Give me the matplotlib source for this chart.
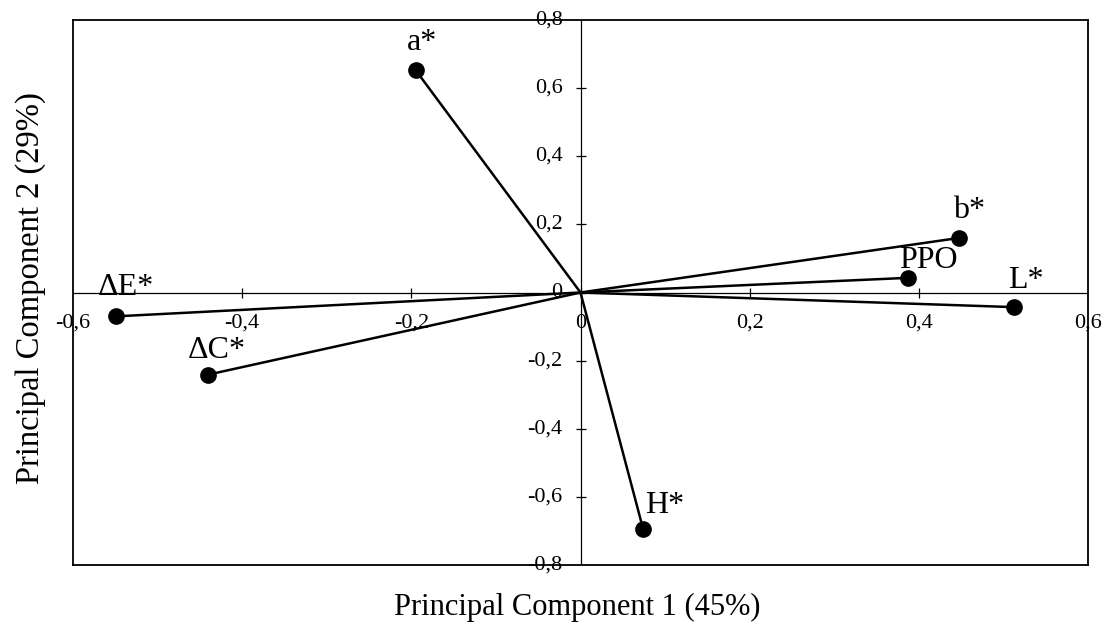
import matplotlib.pyplot as plt

# loadings
labels = ['a*', 'b*', 'PPO', 'L*', '\u0394E*', '\u0394C*', 'H*']
pc1 = [-0.195, 0.447, 0.387, 0.513, -0.549, -0.440, 0.074]
pc2 = [0.653, 0.160, 0.043, -0.043, -0.070, -0.241, -0.694]
# label offsets in pixels (dx, dy)
offsets = [(6, 28), (10, 28), (21, 17), (11, 27), (10, 29), (8, 24), (22, 23)]

xticks = [-0.6, -0.4, -0.2, 0, 0.2, 0.4, 0.6]
xticklabels = ['-0,6', '-0,4', '-0,2', '0', '0,2', '0,4', '0,6']
yticks = [-0.8, -0.6, -0.4, -0.2, 0, 0.2, 0.4, 0.6, 0.8]
yticklabels = ['-0,8', '-0,6', '-0,4', '-0,2', '0', '0,2', '0,4', '0,6', '0,8']

plt.rcParams['font.family'] = ['Liberation Serif', 'DejaVu Serif']

fig = plt.figure(figsize=(11.03, 6.27), dpi=100)
ax = fig.add_axes([73 / 1103, 1 - 565 / 627, (1088 - 73) / 1103, (565 - 20) / 627])
ax.set_xlim(-0.6, 0.6)
ax.set_ylim(-0.8, 0.8)
ax.set_xticks([])
ax.set_yticks([])
for s in ax.spines.values():
    s.set_linewidth(1.3)

# axes through the origin
ax.axhline(0, color='black', lw=0.9)
ax.axvline(0, color='black', lw=0.9)
ax.plot(xticks[1:-1], [0] * (len(xticks) - 2), ls='none', marker='|', ms=7, mew=0.9, color='black')
ax.plot([0] * (len(yticks) - 2), yticks[1:-1], ls='none', marker='_', ms=7, mew=0.9, color='black')

for v, t in zip(xticks, xticklabels):
    ax.annotate(t, (v, 0), xytext=(0, -31), textcoords='offset pixels',
                ha='center', va='center', fontsize=16)
for v, t in zip(yticks, yticklabels):
    ax.annotate(t, (0, v), xytext=(-18, 0), textcoords='offset pixels',
                ha='right', va='center', fontsize=16)

# vectors
for x, y, lab, (dx, dy) in zip(pc1, pc2, labels, offsets):
    ax.plot([0, x], [0, y], color='black', lw=1.8)
    ax.plot(x, y, 'o', color='black', ms=11)
    ax.annotate(lab, (x, y), xytext=(dx, dy), textcoords='offset pixels',
                ha='center', va='center', fontsize=23)

fig.text(577 / 1103, 1 - 607 / 627, 'Principal Component 1 (45%)',
         ha='center', va='center', fontsize=22)
fig.text(31 / 1103, 1 - 288 / 627, 'Principal Component 2 (29%)',
         ha='center', va='center', rotation=90, fontsize=23.5)

fig.savefig('out.png', dpi=100)
